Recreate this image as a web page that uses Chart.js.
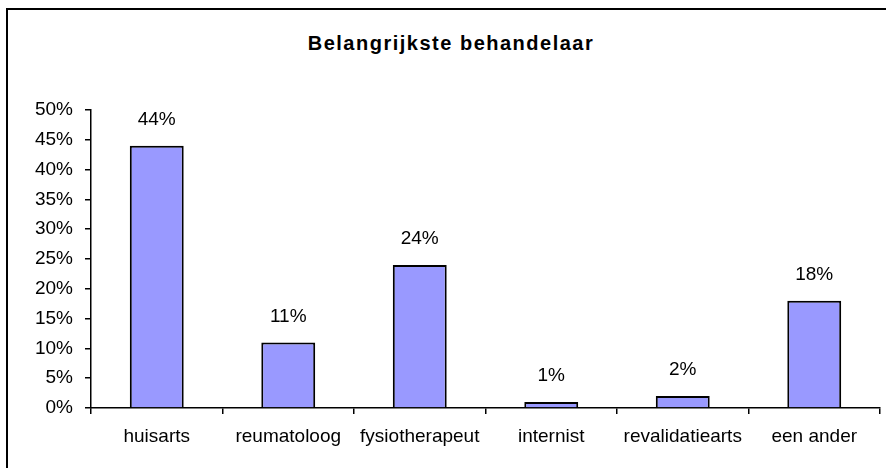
<!DOCTYPE html>
<html><head><meta charset="utf-8">
<script src="https://cdn.jsdelivr.net/npm/chart.js@4/dist/chart.umd.min.js"></script>
<style>
html,body{margin:0;padding:0;background:#fff;overflow:hidden;}
#wrap{position:relative;width:886px;height:468px;overflow:hidden;}
#frame{position:absolute;left:6px;top:8px;width:900px;height:500px;border:2px solid #000;box-sizing:border-box;pointer-events:none;}
#title{position:absolute;top:32px;left:0;width:902px;text-align:center;font:bold 20px "Liberation Sans",Arial,sans-serif;letter-spacing:1.5px;line-height:23px;color:#000;}
canvas{position:absolute;left:0;top:0;}
</style></head>
<body><div id="wrap"><div id="frame"></div><div id="title">Belangrijkste behandelaar</div><canvas id="c" width="886" height="468"></canvas></div>
<script>
const categories = ["huisarts", "reumatoloog", "fysiotherapeut", "internist", "revalidatiearts", "een ander"];
const values = [44, 11, 24, 1, 2, 18];
const yMin = 0, yMax = 50, yStep = 5;

const FONT = '"Liberation Sans", Arial, sans-serif';

const valueLabels = {
  id: 'valueLabels',
  afterDatasetsDraw(chart) {
    const ctx = chart.ctx;
    const meta = chart.getDatasetMeta(0);
    ctx.save();
    ctx.font = '19px ' + FONT;
    ctx.fillStyle = '#000';
    ctx.textAlign = 'center';
    ctx.textBaseline = 'middle';
    meta.data.forEach((bar, i) => {
      ctx.fillText(values[i] + '%', bar.x, bar.y - 26);
    });
    ctx.restore();
  }
};

new Chart(document.getElementById('c'), {
  type: 'bar',
  data: {
    labels: categories,
    datasets: [{
      data: values,
      backgroundColor: '#9999FF',
      borderColor: '#000',
      borderWidth: 2,
      borderSkipped: 'bottom',
      barPercentage: 0.41,
      categoryPercentage: 1.0
    }]
  },
  options: {
    responsive: false,
    devicePixelRatio: 1,
    animation: false,
    layout: { padding: { top: 110, right: 6, bottom: 0, left: 0 } },
    plugins: {
      legend: { display: false },
      title: { display: false },
      tooltip: { enabled: false }
    },
    scales: {
      x: {
        afterFit(scale) { scale.height = 60; },
        grid: { display: true, drawOnChartArea: false, drawTicks: true, tickLength: 6, color: '#000', lineWidth: 1.5, offset: true },
        border: { display: true, color: '#000', width: 1.5 },
        ticks: { color: '#000', font: { family: FONT, size: 19 }, padding: 11, maxRotation: 0, autoSkip: false }
      },
      y: {
        min: yMin, max: yMax,
        afterFit(scale) { scale.width = 91; },
        grid: { display: true, drawOnChartArea: false, drawTicks: true, tickLength: 6, color: '#000', lineWidth: 1.5 },
        border: { display: true, color: '#000', width: 1.5 },
        ticks: { stepSize: yStep, color: '#000', font: { family: FONT, size: 19 }, padding: 12, callback: v => v + '%' }
      }
    }
  },
  plugins: [valueLabels]
});
</script>
</body></html>
